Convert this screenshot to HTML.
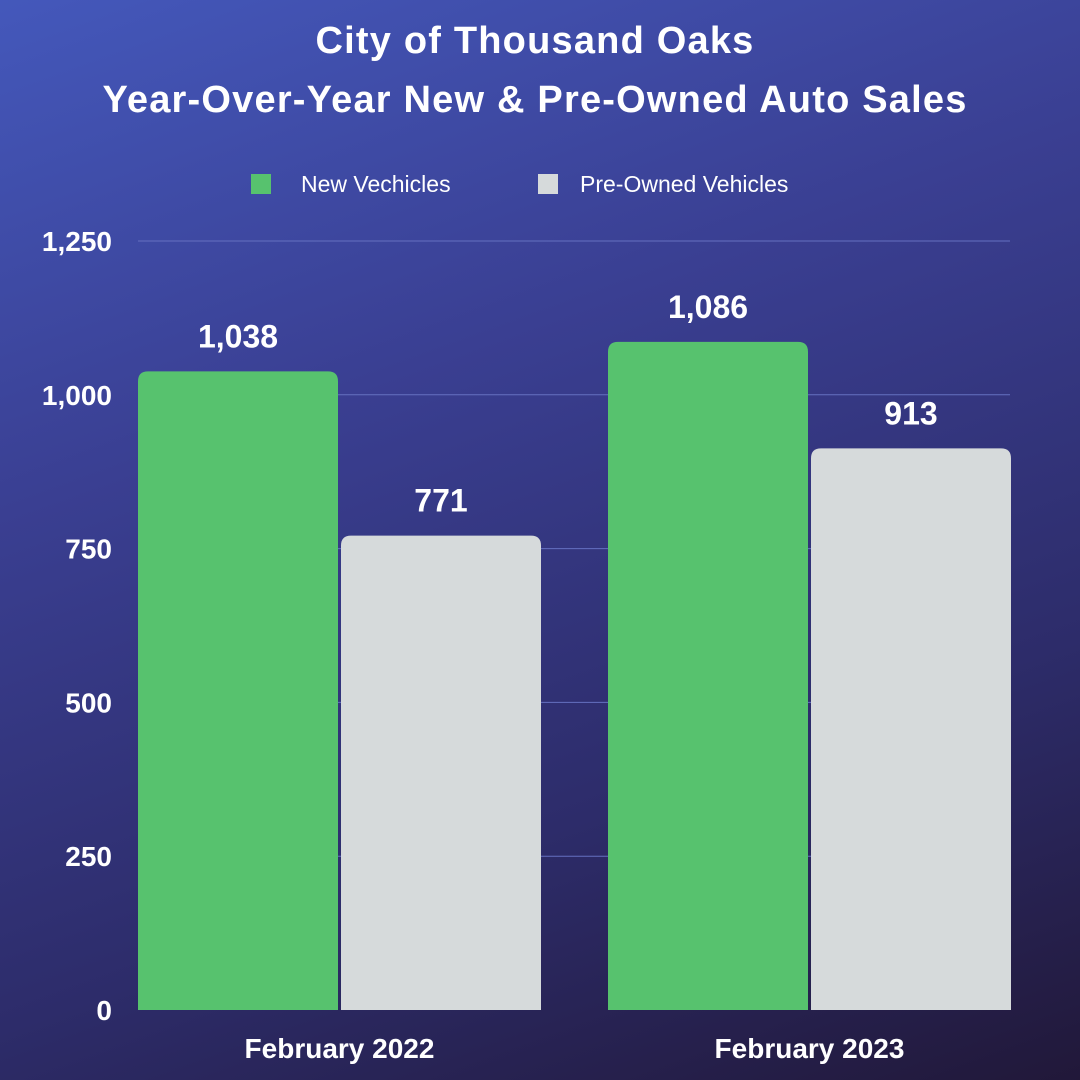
<!DOCTYPE html>
<html><head><meta charset="utf-8"><style>
html,body{margin:0;padding:0}
body{width:1080px;height:1080px;overflow:hidden;background:linear-gradient(160deg,#4458bb 0%,#3a3f92 35%,#2d2c6a 70%,#211839 100%);font-family:"Liberation Sans",sans-serif;}
svg{display:block}
</style></head><body>
<svg id="chart" width="1080" height="1080" xmlns="http://www.w3.org/2000/svg">
<g fill="#fff" font-weight="bold" font-size="38" letter-spacing="1.2" text-anchor="middle">
<text x="535" y="53">City of Thousand Oaks</text>
<text x="535" y="112">Year-Over-Year New &amp; Pre-Owned Auto Sales</text>
</g>
<g font-size="23" fill="#fff">
<g><rect x="251" y="174" width="20" height="20" fill="#57c26e"/><text x="301" y="192">New Vechicles</text></g>
<g><rect x="538" y="174" width="20" height="20" fill="#d6dadb"/><text x="580" y="192">Pre-Owned Vehicles</text></g>
</g>
<g id="grid"></g>
<g id="yticks"></g>
<g id="bars"></g>
<g id="xlabels"></g>
</svg>
<script>
const categories=["February 2022","February 2023"];
const newVehicles=[1038,1086];
const preOwned=[771,913];
const tickValues=[0,250,500,750,1000,1250];
const tickLabels=["0","250","500","750","1,000","1,250"];
const NS="http://www.w3.org/2000/svg";
const y0=1010,yTop=241,maxV=1250;
function y(v){return y0-(v/maxV)*(y0-yTop);}
function mk(t,a,p){const e=document.createElementNS(NS,t);for(const k in a)e.setAttribute(k,a[k]);p.appendChild(e);return e;}
const grid=document.getElementById('grid'),yt=document.getElementById('yticks'),bars=document.getElementById('bars'),xl=document.getElementById('xlabels');
tickValues.forEach((v,i)=>{
 if(v>0){const l=mk('line',{x1:138,x2:1010,y1:y(v),y2:y(v),stroke:'#6570c0','stroke-width':1},grid);
 
 }
 const t=mk('text',{x:112,y:y(v)+10,'text-anchor':'end',fill:'#fff','font-weight':'bold','font-size':28},yt);
 t.textContent=tickLabels[i];
 
 
});
const groupX=[138,608],bw=200,gap=3,r=10;
function bar(x,v,color,name){
 const top=y(v),h=y0-top;
 const p=mk('path',{d:`M${x},${y0} V${top+r} Q${x},${top} ${x+r},${top} H${x+bw-r} Q${x+bw},${top} ${x+bw},${top+r} V${y0} Z`,fill:color},bars);
 
 
 const t=mk('text',{x:x+bw/2,y:top-24,'text-anchor':'middle',fill:'#fff','font-weight':'bold','font-size':32},bars);
 t.textContent=v.toLocaleString('en-US');
 
 
}
categories.forEach((c,i)=>{
 const gx=groupX[i];
 bar(gx,newVehicles[i],'#57c26e','bar-new-'+i);
 bar(gx+bw+gap,preOwned[i],'#d6dadb','bar-preowned-'+i);
 const t=mk('text',{x:gx+bw+gap/2,y:1058,'text-anchor':'middle',fill:'#fff','font-weight':'bold','font-size':28},xl);
 t.textContent=c;
 
 
});
</script>
</body></html>
